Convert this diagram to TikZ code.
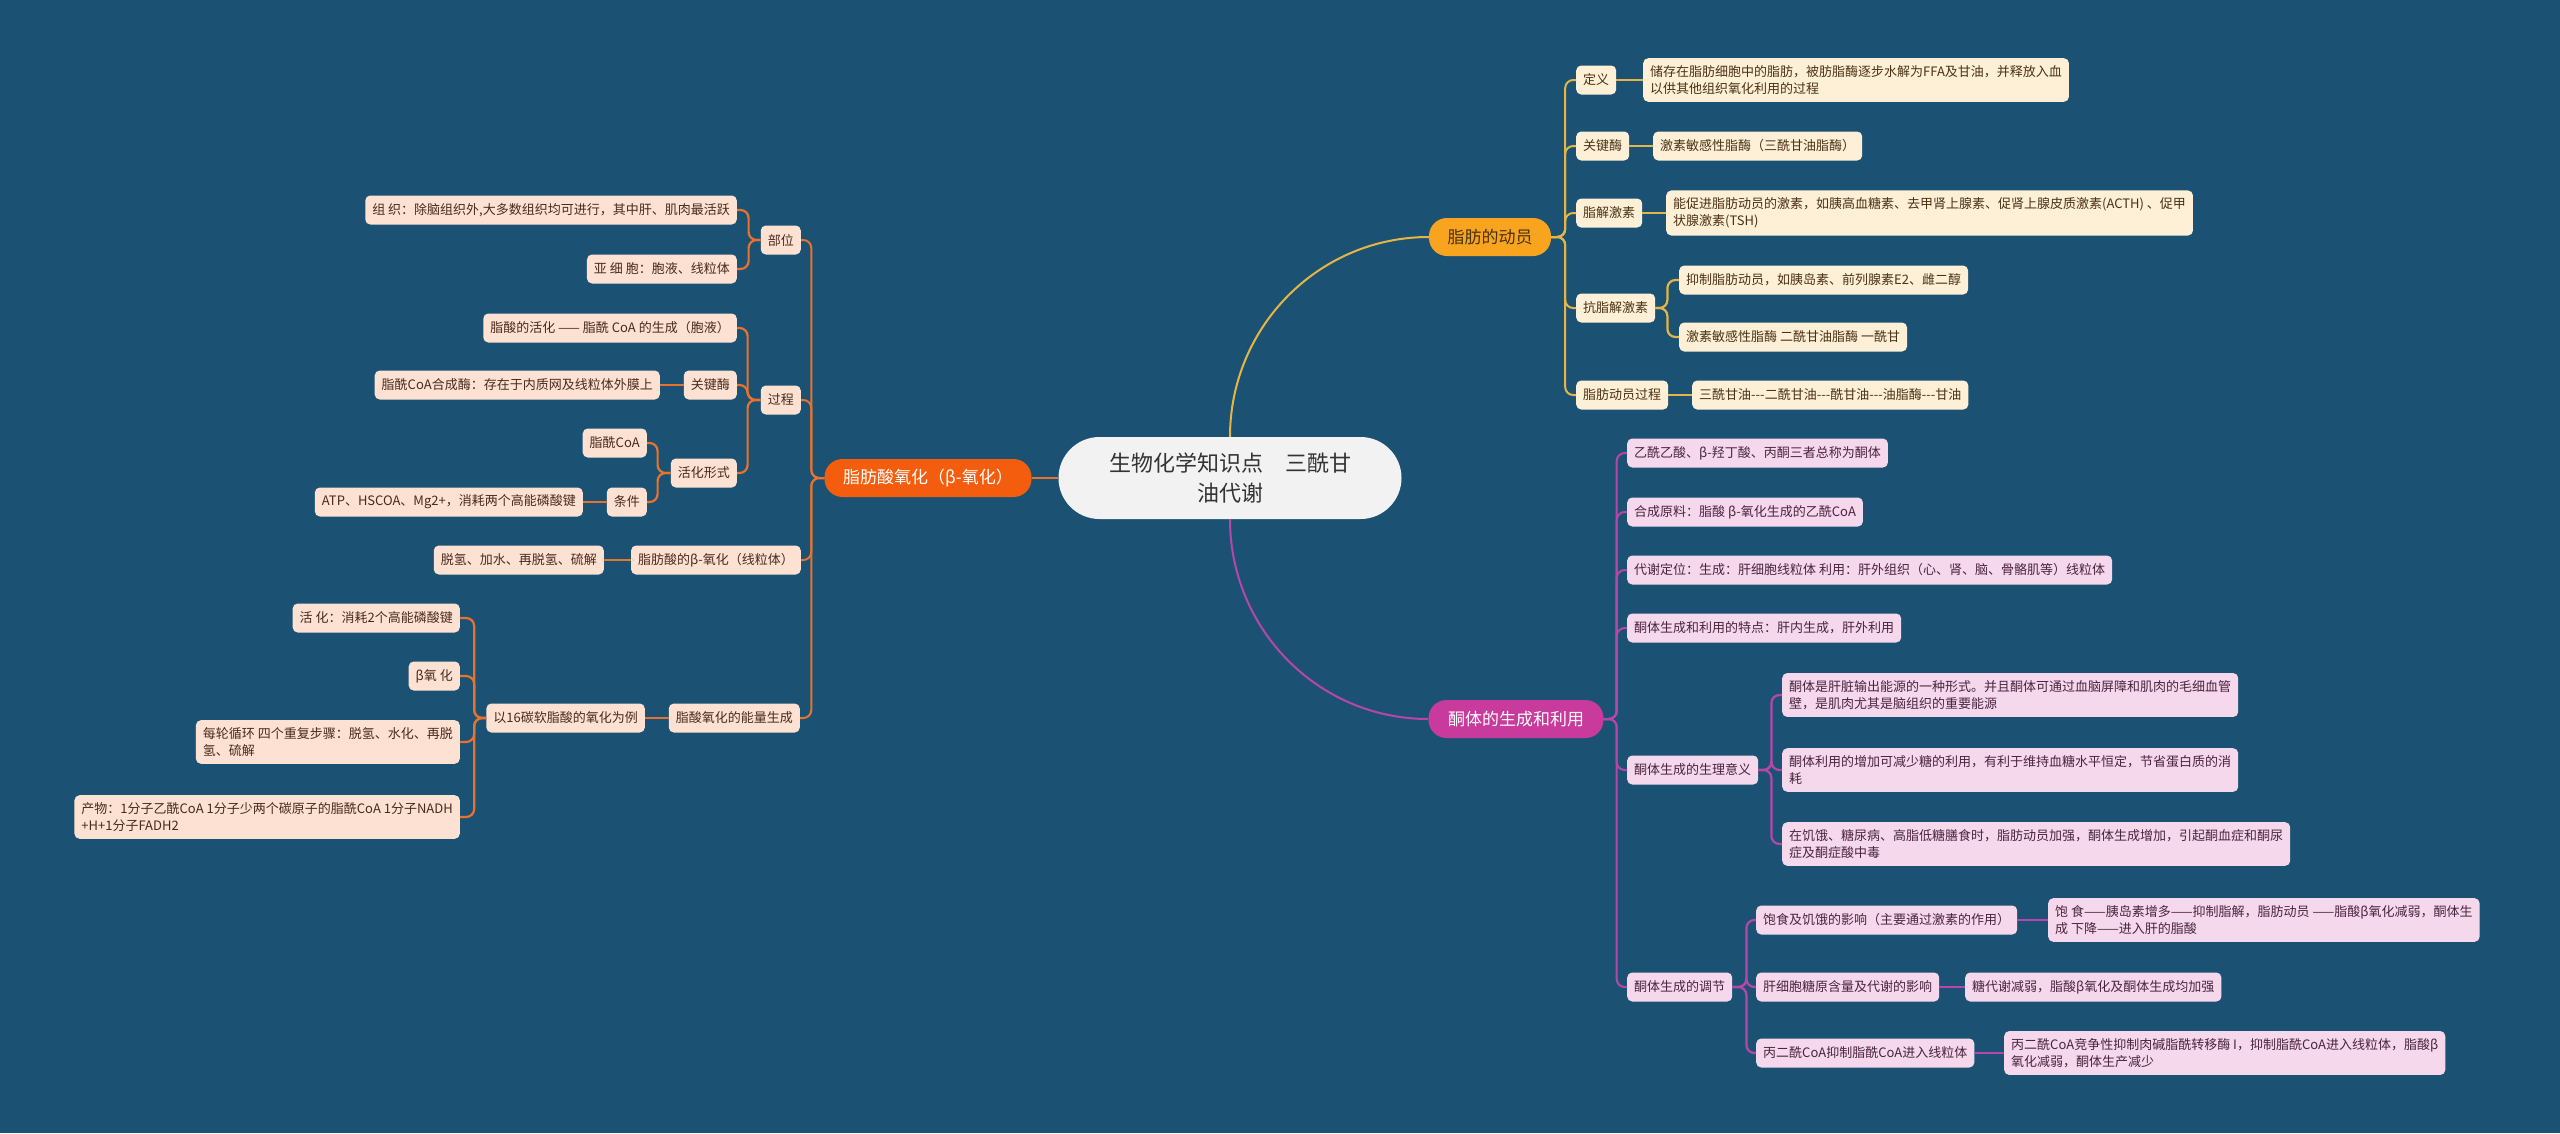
\documentclass[tikz,border=0pt]{standalone}
\usepackage{fontspec}
\setmainfont{Noto Sans CJK SC}
\usetikzlibrary{calc}
\definecolor{bg}{HTML}{1B5273}
\definecolor{yline}{HTML}{E6B545}
\definecolor{yfill}{HTML}{FEF0D6}
\definecolor{ytext}{HTML}{4A3215}
\definecolor{ymain}{HTML}{F8A41E}
\definecolor{pline}{HTML}{B846A8}
\definecolor{pfill}{HTML}{F6D8EC}
\definecolor{ptext}{HTML}{4A2340}
\definecolor{pmain}{HTML}{C93A9D}
\definecolor{oline}{HTML}{E8722E}
\definecolor{ofill}{HTML}{FDE2D3}
\definecolor{otext}{HTML}{4A2A1C}
\definecolor{omain}{HTML}{F45D0D}
\definecolor{rootfill}{HTML}{F2F2F2}
\newcommand\hy{\hbox{-}}
\newcommand\tdash{\hy\hy\hy}
\begin{document}
\begin{tikzpicture}[x=1pt,y=-1pt,
  leaf/.style={rounded corners=5, inner xsep=7, inner ysep=7, minimum height=29,
    font=\fontsize{13}{17.5}\selectfont, align=left},
  leafY/.style={leaf, fill=yfill, text=ytext},
  leafP/.style={leaf, fill=pfill, text=ptext},
  leafO/.style={leaf, fill=ofill, text=otext},
  mainB/.style={rounded corners=18, minimum height=38, inner xsep=10,
    font=\fontsize{17}{20}\selectfont},
  lnY/.style={draw=yline, line width=2.2, rounded corners=8},
  lnP/.style={draw=pline, line width=2.2, rounded corners=8},
  lnO/.style={draw=oline, line width=2.2, rounded corners=8}]
\fill[bg] (0,0) rectangle (2560,1133);
\useasboundingbox (0,0) rectangle (2560,1133);

% root
\node[fill=rootfill, text=black!80, rounded corners=41, minimum width=343, minimum height=82,
  align=center, font=\fontsize{22}{30}\selectfont] (root) at (1230,478)
  {生物化学知识点　三酰甘\\油代谢};

% main branches
\node[mainB, fill=ymain, text=ytext, minimum width=122] (fm) at (1490,237) {脂肪的动员};
\node[mainB, fill=pmain, text=white, minimum width=175] (kt) at (1516,719) {酮体的生成和利用};
\node[mainB, fill=omain, text=white, minimum width=207] (fa) at (928,478) {脂肪酸氧化（β-氧化）};

\draw[lnY, line width=2] (root.north) to[out=90,in=180] (fm.west);
\draw[lnP, line width=2] (root.south) to[out=-90,in=180] (kt.west);
\draw[lnO, line width=2] (root.west) -- (fa.east);

% ---------- 脂肪的动员 ----------
\node[leafY, anchor=west] (y1) at (1576,80) {定义};
\node[leafY, anchor=west] (y1a) at (1643,80) {储存在脂肪细胞中的脂肪，被肪脂酶逐步水解为FFA及甘油，并释放入血\\以供其他组织氧化利用的过程};
\node[leafY, anchor=west] (y2) at (1576,146) {关键酶};
\node[leafY, anchor=west] (y2a) at (1653,146) {激素敏感性脂酶（三酰甘油脂酶）};
\node[leafY, anchor=west] (y3) at (1576,213) {脂解激素};
\node[leafY, anchor=west] (y3a) at (1666,213) {能促进脂肪动员的激素，如胰高血糖素、去甲肾上腺素、促肾上腺皮质激素(ACTH) 、促甲\\状腺激素(TSH)};
\node[leafY, anchor=west] (y4) at (1576,308) {抗脂解激素};
\node[leafY, anchor=west] (y4a) at (1679,280) {抑制脂肪动员，如胰岛素、前列腺素E2、雌二醇};
\node[leafY, anchor=west] (y4b) at (1679,337) {激素敏感性脂酶 二酰甘油脂酶 一酰甘};
\node[leafY, anchor=west] (y5) at (1576,395) {脂肪动员过程};
\node[leafY, anchor=west] (y5a) at (1692,395) {三酰甘油\tdash 二酰甘油\tdash 酰甘油\tdash 油脂酶\tdash 甘油};

\foreach \c in {y1,y2,y3,y4,y5}{\draw[lnY, line width=2] (fm.east) -- ++(14,0) |- (\c.west);}
\draw[lnY] (y1.east) -- (y1a.west);
\draw[lnY] (y2.east) -- (y2a.west);
\draw[lnY] (y3.east) -- (y3a.west);
\draw[lnY] (y4.east) -- ++(12,0) |- (y4a.west);
\draw[lnY] (y4.east) -- ++(12,0) |- (y4b.west);
\draw[lnY] (y5.east) -- (y5a.west);

% ---------- 酮体的生成和利用 ----------
\node[leafP, anchor=west] (p1) at (1627,453) {乙酰乙酸、β-羟丁酸、丙酮三者总称为酮体};
\node[leafP, anchor=west] (p2) at (1627,512) {合成原料：脂酸 β-氧化生成的乙酰CoA};
\node[leafP, anchor=west] (p3) at (1627,570) {代谢定位：生成：肝细胞线粒体 利用：肝外组织（心、肾、脑、骨骼肌等）线粒体};
\node[leafP, anchor=west] (p4) at (1627,628) {酮体生成和利用的特点：肝内生成，肝外利用};
\node[leafP, anchor=west] (p5) at (1627,770) {酮体生成的生理意义};
\node[leafP, anchor=west] (p5a) at (1782,695) {酮体是肝脏输出能源的一种形式。并且酮体可通过血脑屏障和肌肉的毛细血管\\壁，是肌肉尤其是脑组织的重要能源};
\node[leafP, anchor=west] (p5b) at (1782,770) {酮体利用的增加可减少糖的利用，有利于维持血糖水平恒定，节省蛋白质的消\\耗};
\node[leafP, anchor=west] (p5c) at (1782,844) {在饥饿、糖尿病、高脂低糖膳食时，脂肪动员加强，酮体生成增加，引起酮血症和酮尿\\症及酮症酸中毒};
\node[leafP, anchor=west] (p6) at (1627,987) {酮体生成的调节};
\node[leafP, anchor=west] (p6a) at (1756,920) {饱食及饥饿的影响（主要通过激素的作用）};
\node[leafP, anchor=west] (p6a1) at (2048,920) {饱 食——胰岛素增多——抑制脂解，脂肪动员 ——脂酸β氧化减弱，酮体生\\成 下降——进入肝的脂酸};
\node[leafP, anchor=west] (p6b) at (1756,987) {肝细胞糖原含量及代谢的影响};
\node[leafP, anchor=west] (p6b1) at (1965,987) {糖代谢减弱，脂酸β氧化及酮体生成均加强};
\node[leafP, anchor=west] (p6c) at (1756,1053) {丙二酰CoA抑制脂酰CoA进入线粒体};
\node[leafP, anchor=west] (p6c1) at (2004,1053) {丙二酰CoA竞争性抑制肉碱脂酰转移酶 I，抑制脂酰CoA进入线粒体，脂酸β\\氧化减弱，酮体生产减少};

\foreach \c in {p1,p2,p3,p4,p5,p6}{\draw[lnP, line width=2] (kt.east) -- ++(13,0) |- (\c.west);}
\foreach \c in {p5a,p5b,p5c}{\draw[lnP] (p5.east) -- ++(13,0) |- (\c.west);}
\foreach \c in {p6a,p6b,p6c}{\draw[lnP] (p6.east) -- ++(14,0) |- (\c.west);}
\draw[lnP] (p6a.east) -- (p6a1.west);
\draw[lnP] (p6b.east) -- (p6b1.west);
\draw[lnP] (p6c.east) -- (p6c1.west);

% ---------- 脂肪酸氧化 ----------
\node[leafO, anchor=east] (o1) at (801,240) {部位};
\node[leafO, anchor=east] (o1a) at (737,210) {组 织：除脑组织外,大多数组织均可进行，其中肝、肌肉最活跃};
\node[leafO, anchor=east] (o1b) at (737,269) {亚 细 胞：胞液、线粒体};
\node[leafO, anchor=east] (o2) at (801,400) {过程};
\node[leafO, anchor=east] (o2a) at (737,328) {脂酸的活化 —— 脂酰 CoA 的生成（胞液）};
\node[leafO, anchor=east] (o2b) at (737,385) {关键酶};
\node[leafO, anchor=east] (o2b1) at (660,385) {脂酰CoA合成酶：存在于内质网及线粒体外膜上};
\node[leafO, anchor=east] (o2c) at (737,473) {活化形式};
\node[leafO, anchor=east] (o2c1) at (647,443) {脂酰CoA};
\node[leafO, anchor=east] (o2c2) at (647,502) {条件};
\node[leafO, anchor=east] (o2c2a) at (583,502) {ATP、HSCOA、Mg2+，消耗两个高能磷酸键};
\node[leafO, anchor=east] (o3) at (801,560) {脂肪酸的β-氧化（线粒体）};
\node[leafO, anchor=east] (o3a) at (604,560) {脱氢、加水、再脱氢、硫解};
\node[leafO, anchor=east] (o4) at (800,718) {脂酸氧化的能量生成};
\node[leafO, anchor=east] (o4a) at (645,718) {以16碳软脂酸的氧化为例};
\node[leafO, anchor=east] (o4a1) at (460,618) {活 化：消耗2个高能磷酸键};
\node[leafO, anchor=east] (o4a2) at (460,676) {β氧 化};
\node[leafO, anchor=east] (o4a3) at (460,742) {每轮循环 四个重复步骤：脱氢、水化、再脱\\氢、硫解};
\node[leafO, anchor=east] (o4a4) at (460,817) {产物：1分子乙酰CoA 1分子少两个碳原子的脂酰CoA 1分子NADH\\+H+1分子FADH2};

\foreach \c in {o1,o2,o3,o4}{\draw[lnO, line width=2] (fa.west) -- ++(-13,0) |- (\c.east);}
\foreach \c in {o1a,o1b}{\draw[lnO] (o1.west) -- ++(-12,0) |- (\c.east);}
\foreach \c in {o2a,o2b,o2c}{\draw[lnO] (o2.west) -- ++(-13,0) |- (\c.east);}
\draw[lnO] (o2b.west) -- (o2b1.east);
\foreach \c in {o2c1,o2c2}{\draw[lnO] (o2c.west) -- ++(-13,0) |- (\c.east);}
\draw[lnO] (o2c2.west) -- (o2c2a.east);
\draw[lnO] (o3.west) -- (o3a.east);
\draw[lnO] (o4.west) -- (o4a.east);
\foreach \c in {o4a1,o4a2,o4a3,o4a4}{\draw[lnO] (o4a.west) -- ++(-12,0) |- (\c.east);}
\end{tikzpicture}
\end{document}
